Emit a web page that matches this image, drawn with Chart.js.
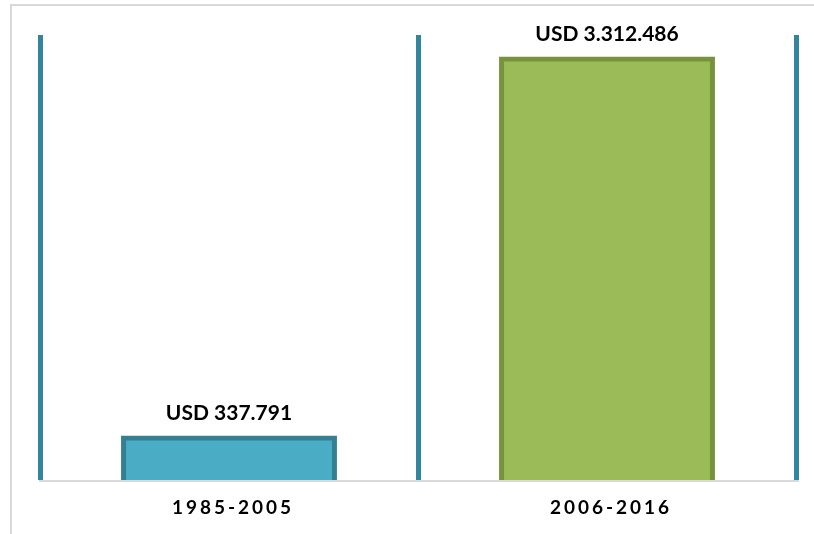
<!DOCTYPE html>
<html>
<head>
<meta charset="utf-8">
<script src="https://cdn.jsdelivr.net/npm/chart.js@4"></script>
<style>
  html, body { margin: 0; padding: 0; background: #fff; overflow: hidden; }
  #frame { position: absolute; left: 10px; top: 4px; width: 900px; height: 700px; border: 2px solid #d9d9d9; box-sizing: border-box; }
  #wrap { position: absolute; left: 0; top: 0; width: 814px; height: 534px; }
</style>
</head>
<body>
<div id="frame"></div>
<div id="wrap"><canvas id="c" width="814" height="534"></canvas></div>
<script>
const categories = ['1985-2005', '2006-2016'];
const values = [337791, 3312486];
const valueLabels = ['USD 337.791', 'USD 3.312.486'];
const fillColors = ['#4bacc6', '#9bbb59'];
const borderColors = ['#357f92', '#76923c'];

const labelPlugin = {
  id: 'valueLabels',
  beforeDraw(chart) {
    chart.ctx.letterSpacing = '3px';
  },
  afterDatasetsDraw(chart) {
    const ctx = chart.ctx;
    ctx.save();
    ctx.letterSpacing = '0px';
    ctx.font = 'bold 21px Lato';
    ctx.fillStyle = '#000';
    ctx.textAlign = 'center';
    ctx.textBaseline = 'middle';
    const meta = chart.getDatasetMeta(0);
    meta.data.forEach((bar, i) => {
      ctx.fillText(valueLabels[i], bar.x, bar.y - 25);
    });
    ctx.restore();
  }
};

new Chart(document.getElementById('c'), {
  type: 'bar',
  data: {
    labels: categories,
    datasets: [{
      data: values,
      backgroundColor: fillColors,
      borderColor: borderColors,
      borderWidth: 5,
      inflateAmount: 2.5,
      barPercentage: 0.558,
      categoryPercentage: 1
    }]
  },
  options: {
    responsive: false,
    animation: false,
    events: [],
    layout: { padding: { left: 40, right: 18, top: 35, bottom: 0 } },
    plugins: { legend: { display: false }, tooltip: { enabled: false } },
    scales: {
      y: { display: false, min: 0, max: 3500000 },
      x: {
        grid: { offset: true, color: '#31859c', lineWidth: 5, drawTicks: false },
        border: { display: true, color: '#d9d9d9', width: 2, z: 1 },
        ticks: { color: '#000', font: { family: 'Lato', weight: 'bold', size: 19, lineHeight: 1.1 }, padding: 16, labelOffset: 4 }
      }
    }
  },
  plugins: [labelPlugin]
});
</script>
</body>
</html>
